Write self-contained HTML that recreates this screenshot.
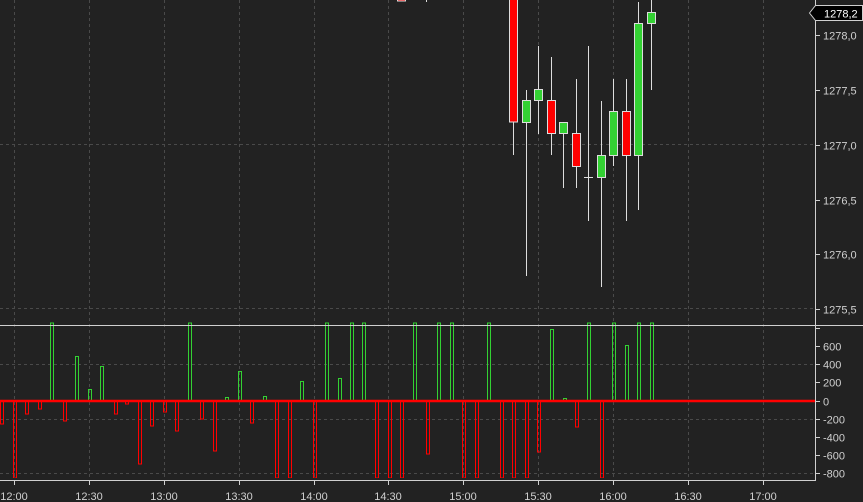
<!DOCTYPE html>
<html><head><meta charset="utf-8"><style>
html,body{margin:0;padding:0;background:#222;}
svg{display:block;}
text{font-family:"Liberation Sans",sans-serif;font-size:11px;fill:#d0d0d0;}
</style></head><body>
<svg width="863" height="502" viewBox="0 0 863 502" xmlns="http://www.w3.org/2000/svg">
<rect width="863" height="502" fill="#222"/>
<g stroke="#4a4a4a" stroke-width="1" stroke-dasharray="3,3">
<line x1="14.5" y1="0" x2="14.5" y2="480"/>
<line x1="89.5" y1="0" x2="89.5" y2="480"/>
<line x1="164.5" y1="0" x2="164.5" y2="480"/>
<line x1="239.5" y1="0" x2="239.5" y2="480"/>
<line x1="314.5" y1="0" x2="314.5" y2="480"/>
<line x1="388.5" y1="0" x2="388.5" y2="480"/>
<line x1="463.5" y1="0" x2="463.5" y2="480"/>
<line x1="538.5" y1="0" x2="538.5" y2="480"/>
<line x1="613.5" y1="0" x2="613.5" y2="480"/>
<line x1="688.5" y1="0" x2="688.5" y2="480"/>
<line x1="763.5" y1="0" x2="763.5" y2="480"/>
<line x1="0" y1="144.5" x2="815" y2="144.5"/>
<line x1="0" y1="308.5" x2="815" y2="308.5"/>
<line x1="0" y1="364.5" x2="815" y2="364.5"/>
<line x1="0" y1="419.5" x2="815" y2="419.5"/>
<line x1="0" y1="473.5" x2="815" y2="473.5"/>
</g>
<!-- candles -->
<g stroke="#ddd" stroke-width="1">
<line x1="426.5" y1="0" x2="426.5" y2="2"/>
<line x1="513.5" y1="0" x2="513.5" y2="155"/>
<line x1="526.5" y1="90" x2="526.5" y2="276"/>
<line x1="538.5" y1="46" x2="538.5" y2="134"/>
<line x1="551.5" y1="57" x2="551.5" y2="155"/>
<line x1="563.5" y1="133" x2="563.5" y2="188"/>
<line x1="576.5" y1="79" x2="576.5" y2="188"/>
<line x1="588.5" y1="46" x2="588.5" y2="221"/>
<line x1="584" y1="177.5" x2="593" y2="177.5"/>
<line x1="601.5" y1="101" x2="601.5" y2="287"/>
<line x1="613.5" y1="79" x2="613.5" y2="166"/>
<line x1="626.5" y1="79" x2="626.5" y2="221"/>
<line x1="638.5" y1="2" x2="638.5" y2="210"/>
<line x1="651.5" y1="0" x2="651.5" y2="90"/>
</g>
<g stroke="#ddd" stroke-width="1">
<rect x="397.5" y="-3" width="8" height="4" fill="#ff0000"/>
<rect x="509.5" y="-3" width="8" height="125" fill="#ff0000"/>
<rect x="522.5" y="100.5" width="8" height="22" fill="#33d133"/>
<rect x="534.5" y="89.5" width="8" height="11" fill="#33d133"/>
<rect x="547.5" y="100.5" width="8" height="33" fill="#ff0000"/>
<rect x="559.5" y="122.5" width="8" height="11" fill="#33d133"/>
<rect x="572.5" y="133.5" width="8" height="33" fill="#ff0000"/>
<rect x="597.5" y="155.5" width="8" height="22" fill="#33d133"/>
<rect x="609.5" y="111.5" width="8" height="44" fill="#33d133"/>
<rect x="622.5" y="111.5" width="8" height="44" fill="#ff0000"/>
<rect x="634.5" y="23.5" width="8" height="132" fill="#33d133"/>
<rect x="647.5" y="12.5" width="8" height="11" fill="#33d133"/>
</g>
<!-- histogram -->
<g fill="none" stroke="#ff0000" stroke-width="1">
<rect x="0.5" y="401" width="3" height="23"/>
<rect x="13.5" y="401" width="3" height="77"/>
<rect x="25.5" y="401" width="3" height="13"/>
<rect x="38.5" y="401" width="3" height="8"/>
<rect x="63.5" y="401" width="3" height="20"/>
<rect x="114.5" y="401" width="3" height="13"/>
<rect x="125.5" y="401" width="3" height="3"/>
<rect x="138.5" y="401" width="3" height="63"/>
<rect x="150.5" y="401" width="3" height="25"/>
<rect x="163.5" y="401" width="3" height="11"/>
<rect x="175.5" y="401" width="3" height="30"/>
<rect x="200.5" y="401" width="3" height="18"/>
<rect x="213.5" y="401" width="3" height="50"/>
<rect x="250.5" y="401" width="3" height="22"/>
<rect x="275.5" y="401" width="3" height="77"/>
<rect x="288.5" y="401" width="3" height="77"/>
<rect x="313.5" y="401" width="3" height="77"/>
<rect x="375.5" y="401" width="3" height="77"/>
<rect x="388.5" y="401" width="3" height="77"/>
<rect x="400.5" y="401" width="3" height="77"/>
<rect x="426.5" y="401" width="3" height="53"/>
<rect x="462.5" y="401" width="3" height="77"/>
<rect x="475.5" y="401" width="3" height="77"/>
<rect x="500.5" y="401" width="3" height="77"/>
<rect x="512.5" y="401" width="3" height="77"/>
<rect x="525.5" y="401" width="3" height="77"/>
<rect x="537.5" y="401" width="3" height="51"/>
<rect x="575.5" y="401" width="3" height="26"/>
<rect x="600.5" y="401" width="3" height="77"/>
</g>
<g fill="none" stroke="#33d133" stroke-width="1">
<rect x="50.5" y="323" width="3" height="78"/>
<rect x="75.5" y="356.5" width="3" height="44.5"/>
<rect x="88.5" y="389.5" width="3" height="11.5"/>
<rect x="100.5" y="366.5" width="3" height="34.5"/>
<rect x="188.5" y="323" width="3" height="78"/>
<rect x="225.5" y="397.5" width="3" height="3.5"/>
<rect x="238.5" y="371.5" width="3" height="29.5"/>
<rect x="263.5" y="396.5" width="3" height="4.5"/>
<rect x="300.5" y="381.5" width="3" height="19.5"/>
<rect x="325.5" y="323" width="3" height="78"/>
<rect x="338.5" y="378.5" width="3" height="22.5"/>
<rect x="350.5" y="323" width="3" height="78"/>
<rect x="362.5" y="323" width="3" height="78"/>
<rect x="413.5" y="323" width="3" height="78"/>
<rect x="437.5" y="323" width="3" height="78"/>
<rect x="450.5" y="323" width="3" height="78"/>
<rect x="487.5" y="323" width="3" height="78"/>
<rect x="550.5" y="329.5" width="3" height="71.5"/>
<rect x="563.5" y="398.5" width="3" height="2.5"/>
<rect x="587.5" y="323" width="3" height="78"/>
<rect x="612.5" y="323" width="3" height="78"/>
<rect x="625.5" y="345.5" width="3" height="55.5"/>
<rect x="637.5" y="323" width="3" height="78"/>
<rect x="650.5" y="323" width="3" height="78"/>
</g>
<rect x="0" y="478" width="815" height="2" fill="#222"/>
<line x1="0" y1="401" x2="815" y2="401" stroke="#ff0000" stroke-width="2.5"/>
<!-- axes -->
<g stroke="#d0d0d0" stroke-width="1">
<line x1="815.5" y1="0" x2="815.5" y2="480"/>
<line x1="0" y1="325.5" x2="863" y2="325.5"/>
<line x1="0" y1="480.5" x2="816" y2="480.5"/>
<line x1="815" y1="35.5" x2="820" y2="35.5"/>
<line x1="815" y1="90.5" x2="820" y2="90.5"/>
<line x1="815" y1="145.5" x2="820" y2="145.5"/>
<line x1="815" y1="200.5" x2="820" y2="200.5"/>
<line x1="815" y1="254.5" x2="820" y2="254.5"/>
<line x1="815" y1="309.5" x2="820" y2="309.5"/>
<line x1="815" y1="328.5" x2="820" y2="328.5"/>
<line x1="815" y1="346.5" x2="820" y2="346.5"/>
<line x1="815" y1="364.5" x2="820" y2="364.5"/>
<line x1="815" y1="382.5" x2="820" y2="382.5"/>
<line x1="815" y1="401.5" x2="820" y2="401.5"/>
<line x1="815" y1="419.5" x2="820" y2="419.5"/>
<line x1="815" y1="437.5" x2="820" y2="437.5"/>
<line x1="815" y1="455.5" x2="820" y2="455.5"/>
<line x1="815" y1="473.5" x2="820" y2="473.5"/>
<line x1="14.5" y1="480" x2="14.5" y2="485"/>
<line x1="89.5" y1="480" x2="89.5" y2="485"/>
<line x1="164.5" y1="480" x2="164.5" y2="485"/>
<line x1="239.5" y1="480" x2="239.5" y2="485"/>
<line x1="314.5" y1="480" x2="314.5" y2="485"/>
<line x1="388.5" y1="480" x2="388.5" y2="485"/>
<line x1="463.5" y1="480" x2="463.5" y2="485"/>
<line x1="538.5" y1="480" x2="538.5" y2="485"/>
<line x1="613.5" y1="480" x2="613.5" y2="485"/>
<line x1="688.5" y1="480" x2="688.5" y2="485"/>
<line x1="763.5" y1="480" x2="763.5" y2="485"/>
</g>
<g>
<text x="823" y="39.5">1278,0</text>
<text x="823" y="94.5">1277,5</text>
<text x="823" y="149.5">1277,0</text>
<text x="823" y="204.5">1276,5</text>
<text x="823" y="258.5">1276,0</text>
<text x="823" y="313.5">1275,5</text>
<text x="823" y="350.5">600</text>
<text x="823" y="368.5">400</text>
<text x="823" y="386.5">200</text>
<text x="823" y="405.5">0</text>
<text x="823" y="423.5">-200</text>
<text x="823" y="441.5">-400</text>
<text x="823" y="459.5">-600</text>
<text x="823" y="477.5">-800</text>
</g>
<g text-anchor="middle">
<text x="14" y="500">12:00</text>
<text x="89" y="500">12:30</text>
<text x="164" y="500">13:00</text>
<text x="239" y="500">13:30</text>
<text x="314" y="500">14:00</text>
<text x="388" y="500">14:30</text>
<text x="463" y="500">15:00</text>
<text x="538" y="500">15:30</text>
<text x="613" y="500">16:00</text>
<text x="688" y="500">16:30</text>
<text x="763" y="500">17:00</text>
</g>
<polygon points="809.5,13 815.5,5.5 862.5,5.5 862.5,20.5 815.5,20.5" fill="#000" stroke="#d0d0d0" stroke-width="1"/>
<text x="824" y="17.5" style="fill:#fff">1278,2</text>
</svg>
</body></html>
